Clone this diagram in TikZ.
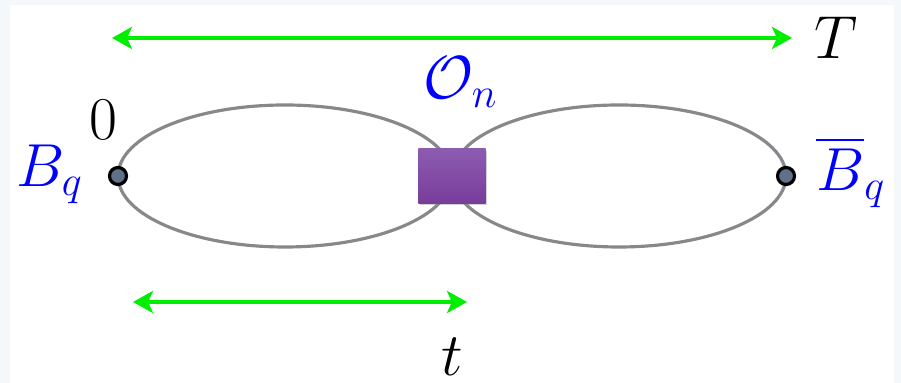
\documentclass[tikz,border=0pt]{standalone}
\usepackage{amsmath}
\usepackage{tikz}
\usetikzlibrary{arrows.meta, positioning, shadows}
\definecolor{framebg}{HTML}{F4F8FA}
\definecolor{loopgray}{HTML}{88888C}
\definecolor{dotfill}{HTML}{5F7088}
\definecolor{vtxtop}{HTML}{8C5CB0}
\definecolor{vtxbot}{HTML}{793C9C}
\definecolor{arrgreen}{HTML}{00EE00}

\begin{document}
\begin{tikzpicture}[
		x=0.01cm, y=-0.01cm,
		font=\fontsize{16.5}{20}\selectfont,
		loop/.style = {draw=loopgray, line width=0.9pt},
		endpt/.style = {circle, draw=black, line width=0.9pt, fill=dotfill, minimum size=0.17cm, inner sep=0pt},
		vertex/.style = {rectangle, minimum width=0.67cm, minimum height=0.54cm, inner sep=0pt, top color=vtxtop, bottom color=vtxbot, drop shadow={shadow xshift=0.4pt, shadow yshift=-0.6pt, opacity=0.35}},
		span/.style = {draw=arrgreen, line width=1.1pt, {Stealth[length=2mm, width=2.2mm, inset=0.5mm]}-{Stealth[length=2mm, width=2.2mm, inset=0.5mm]}},
		lbl/.style = {text=blue}
		]
		
		% frame
		\fill[framebg] (0,0) rectangle (901,383);
		\fill[white] (10,5) rectangle (894,383);
		\useasboundingbox (0,0) rectangle (901,383);
		
		% the two propagators
		\draw[loop] (285,176) ellipse [x radius=167, y radius=71];
		\draw[loop] (619,176) ellipse [x radius=167, y radius=71];
		
		\node [endpt] (src) at (118,176) {};
		\node [endpt] (snk) at (786,176) {};
		\node [vertex] (op) at (452,176) {};
		
		\node [lbl] (bq) at (50,174) {$B_q$};
		\node [lbl] (bqbar) at (851,172) {$\overline{B}_q$};
		\node [lbl] (opn) at (461,82) {$\mathcal{O}_n$};
		\node (zero) at (103,120) {$0$};
		
		% time extents
		\coordinate (Tl) at (112,38);
		\coordinate (Tr) at (792,38);
		\node [right=0.1cm of Tr] (Tlab) {$T$};
		\draw [span] (Tl) -- (Tr);
		
		\coordinate (tl) at (133,302);
		\coordinate (tr) at (467,302);
		\node (tlab) at (452,357) {$t$};
		\draw [span] (tl) -- (tr);
		
	\end{tikzpicture}
\end{document}
